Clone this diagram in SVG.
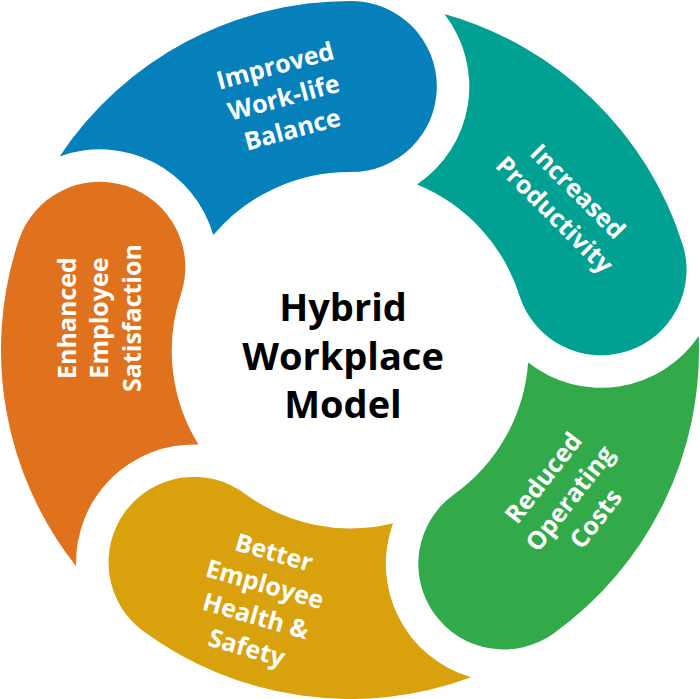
<svg xmlns="http://www.w3.org/2000/svg" width="700" height="699" viewBox="0 0 700 699">
<defs>
<style>
.lbl{font-family:"Open Sans","Noto Sans","Liberation Sans",sans-serif;font-weight:700;font-size:25px;fill:#ffffff;text-anchor:middle}
.ctr{font-family:"Open Sans","Noto Sans","Liberation Sans",sans-serif;font-weight:700;font-size:38px;fill:#000000;text-anchor:middle}
</style>
<path id="seg" d="M 59.6 156.4 A 349 349 0 0 1 351.83 1.0 A 85.5 85.5 0 0 1 350.93 172.0 A 178 178 0 0 0 213.3 235.1 A 118 118 0 0 0 59.6 156.4 Z"/>
</defs>
<rect x="0" y="0" width="700" height="699" fill="#ffffff"/>
<g id="node-blue">
<use href="#seg" fill="#0580BA"/>
<g transform="translate(286 106) rotate(-15)">
<text class="lbl" x="0" y="-33">Improved</text>
<text class="lbl" x="0" y="0">Work-life</text>
<text class="lbl" x="0" y="33">Balance</text>
</g>
</g>
<g id="node-teal">
<use href="#seg" fill="#00A093" transform="rotate(72 350 350)"/>
<g transform="translate(560 209.3) rotate(45)">
<text class="lbl" x="0" y="-16.5">Increased</text>
<text class="lbl" x="0" y="16.5">Productivity</text>
</g>
</g>
<g id="node-green">
<use href="#seg" fill="#33AA4A" transform="rotate(144 350 350)"/>
<g transform="translate(576.7 503.7) rotate(-52)">
<text class="lbl" x="0" y="-33.5">Reduced</text>
<text class="lbl" x="0" y="0">Operating</text>
<text class="lbl" x="0" y="33">Costs</text>
</g>
</g>
<g id="node-gold">
<use href="#seg" fill="#D9A10C" transform="rotate(216 350 350)"/>
<g transform="translate(258 608.5) rotate(16)">
<text class="lbl" x="0" y="-49.5">Better</text>
<text class="lbl" x="0" y="-16.5">Employee</text>
<text class="lbl" x="0" y="16.5">Health &amp;</text>
<text class="lbl" x="0" y="49.5">Safety</text>
</g>
</g>
<g id="node-orange">
<use href="#seg" fill="#E0721D" transform="rotate(288 350 350)"/>
<g transform="translate(108.3 318) rotate(-90)">
<text class="lbl" x="0" y="-32.5">Enhanced</text>
<text class="lbl" x="0" y="0">Employee</text>
<text class="lbl" x="0" y="32.5">Satisfaction</text>
</g>
</g>
<g id="node-center">
<text class="ctr" x="343" y="320.5">Hybrid</text>
<text class="ctr" x="343" y="370">Workplace</text>
<text class="ctr" x="343" y="418">Model</text>
</g>
<g id="connectors"></g>
</svg>
